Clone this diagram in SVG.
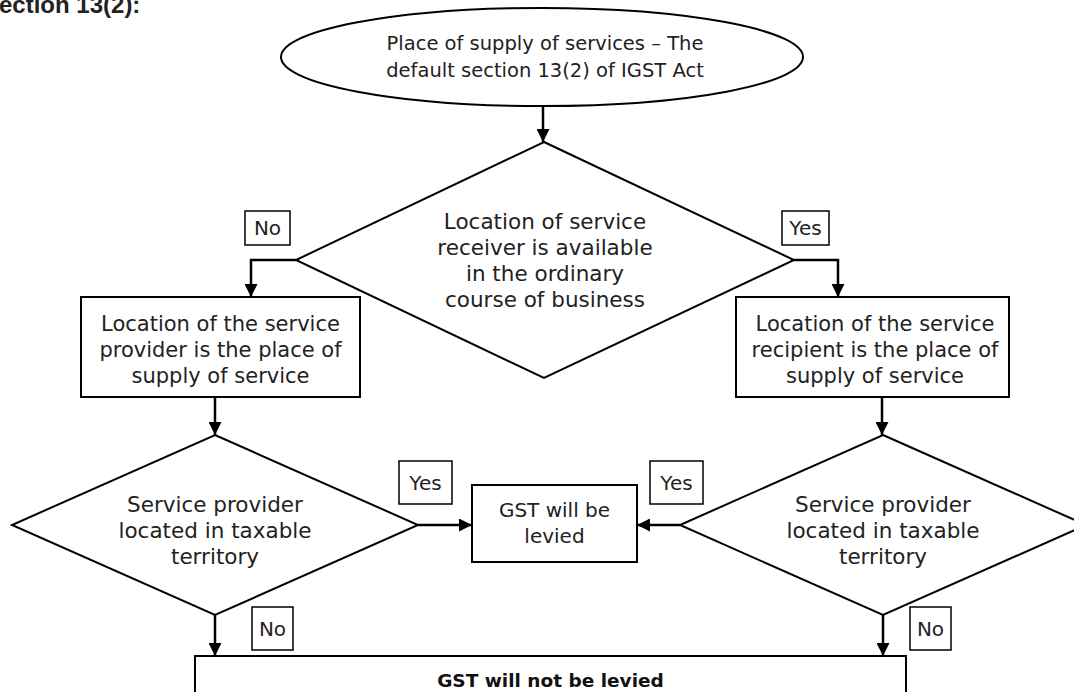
<svg xmlns="http://www.w3.org/2000/svg" width="1074" height="692" viewBox="0 0 1074 692">
<defs>
<marker id="ah" viewBox="0 0 13 13" refX="13" refY="6.5" markerWidth="13" markerHeight="13" markerUnits="userSpaceOnUse" orient="auto">
<path d="M0,0 L13,6.5 L0,13 Z" fill="#000"/>
</marker>
</defs>
<style>
.shape{fill:#fff;stroke:#000;stroke-width:2}
.lbl{fill:#fff;stroke:#000;stroke-width:1.5}
.t{font-family:"DejaVu Sans",sans-serif;font-size:20px;fill:#222;text-anchor:middle}
.m{font-family:"DejaVu Sans",sans-serif;font-size:21px;fill:#222;text-anchor:middle}
.d{font-family:"DejaVu Sans",sans-serif;font-size:21.5px;fill:#222;text-anchor:middle}
.e{font-family:"DejaVu Sans",sans-serif;font-size:19.5px;fill:#222;text-anchor:middle}
.b{font-family:"DejaVu Sans",sans-serif;font-size:18.5px;font-weight:bold;fill:#111;text-anchor:middle}
.c{fill:none;stroke:#000;stroke-width:2.5}
</style>
<rect width="1074" height="692" fill="#fff"/>
<text x="-1" y="13" style="font-family:'Liberation Sans',Arial,sans-serif;font-size:24px;font-weight:bold;fill:#222">ection 13(2):</text>

<g id="connectors">
<line class="c" x1="543" y1="106" x2="543" y2="142" marker-end="url(#ah)"/>
<polyline class="c" points="296,260 251,260 251,297" marker-end="url(#ah)"/>
<polyline class="c" points="794,260 838,260 838,297" marker-end="url(#ah)"/>
<line class="c" x1="215" y1="397" x2="215" y2="435" marker-end="url(#ah)"/>
<line class="c" x1="882" y1="397" x2="882" y2="435" marker-end="url(#ah)"/>
<line class="c" x1="418" y1="525" x2="472" y2="525" marker-end="url(#ah)"/>
<line class="c" x1="680" y1="525" x2="637" y2="525" marker-end="url(#ah)"/>
<line class="c" x1="215" y1="615" x2="215" y2="656" marker-end="url(#ah)"/>
<line class="c" x1="883" y1="615" x2="883" y2="656" marker-end="url(#ah)"/>
</g>

<g id="start">
<ellipse class="shape" cx="542" cy="57" rx="261" ry="49"/>
<text class="e" x="545" y="50">Place of supply of services – The</text>
<text class="e" x="545" y="77">default section 13(2) of IGST Act</text>
</g>

<g id="decision-main">
<polygon class="shape" points="544,142 794,260 544,378 296,260"/>
<text class="d" x="545" y="229">Location of service</text>
<text class="d" x="545" y="255">receiver is available</text>
<text class="d" x="545" y="281">in the ordinary</text>
<text class="d" x="545" y="307">course of business</text>
</g>

<g id="label-no-top">
<rect class="lbl" x="245" y="211" width="45" height="34"/>
<text class="t" x="267.5" y="235">No</text>
</g>
<g id="label-yes-top">
<rect class="lbl" x="782" y="211" width="47" height="34"/>
<text class="t" x="805.5" y="235">Yes</text>
</g>

<g id="box-provider">
<rect class="shape" x="81" y="297" width="279" height="100"/>
<text class="m" x="220.5" y="331">Location of the service</text>
<text class="m" x="220.5" y="357">provider is the place of</text>
<text class="m" x="220.5" y="383">supply of service</text>
</g>

<g id="box-recipient">
<rect class="shape" x="736" y="297" width="273" height="100"/>
<text class="m" x="875" y="331">Location of the service</text>
<text class="m" x="875" y="357">recipient is the place of</text>
<text class="m" x="875" y="383">supply of service</text>
</g>

<g id="decision-left">
<polygon class="shape" points="215,435 418,525 215,615 12,525"/>
<text class="d" x="215" y="512">Service provider</text>
<text class="d" x="215" y="538">located in taxable</text>
<text class="d" x="215" y="564">territory</text>
</g>

<g id="decision-right">
<polygon class="shape" points="883,435 1086,525 883,615 680,525"/>
<text class="d" x="883" y="512">Service provider</text>
<text class="d" x="883" y="538">located in taxable</text>
<text class="d" x="883" y="564">territory</text>
</g>

<g id="box-levied">
<rect class="shape" x="472" y="485" width="165" height="77"/>
<text class="t" x="554.5" y="517">GST will be</text>
<text class="t" x="554.5" y="543">levied</text>
</g>

<g id="label-yes-left">
<rect class="lbl" x="399" y="461" width="53" height="43"/>
<text class="t" x="425.5" y="490">Yes</text>
</g>
<g id="label-yes-right">
<rect class="lbl" x="650" y="461" width="53" height="43"/>
<text class="t" x="676.5" y="490">Yes</text>
</g>
<g id="label-no-left">
<rect class="lbl" x="252" y="607" width="41" height="43"/>
<text class="t" x="272.5" y="636">No</text>
</g>
<g id="label-no-right">
<rect class="lbl" x="910" y="607" width="41" height="43"/>
<text class="t" x="930.5" y="636">No</text>
</g>

<g id="box-not-levied">
<rect class="shape" x="195" y="656" width="711" height="60"/>
<text class="b" x="550.5" y="687">GST will not be levied</text>
</g>
</svg>
